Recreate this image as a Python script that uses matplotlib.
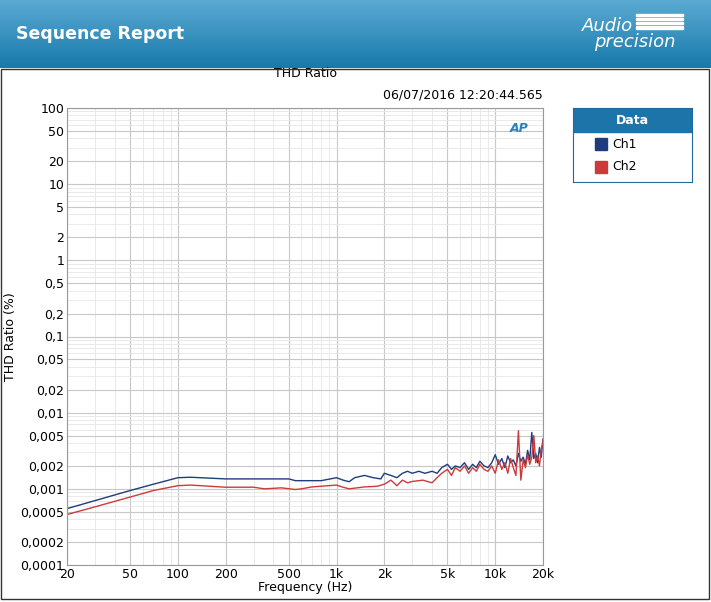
import numpy as np
import matplotlib
matplotlib.use("Agg")
import matplotlib.pyplot as plt
from matplotlib.ticker import FixedLocator, LogLocator, NullFormatter
from matplotlib.patches import Rectangle

freq1 = [20, 30, 50, 70, 100, 120, 200, 500, 550, 800, 1000, 1100, 1200, 1300, 1500, 1700, 1900,
         2000, 2200, 2400, 2600, 2800, 3000, 3300, 3600, 4000, 4300, 4600, 5000, 5300, 5600, 6000,
         6400, 6800, 7200, 7600, 8000, 8500, 9000, 9500, 10000, 10500, 11000, 11500, 12000, 12500,
         13000, 13500, 14000, 14500, 15000, 15500, 16000, 16500, 17000, 17500, 18000, 18500, 19000,
         19500, 20000]
ch1 = [0.00055, 0.0007, 0.00095, 0.00115, 0.0014, 0.00142, 0.00135, 0.00135, 0.00128, 0.00128,
       0.0014, 0.0013, 0.00124, 0.0014, 0.0015, 0.0014, 0.00135, 0.0016, 0.0015, 0.0014, 0.0016,
       0.0017, 0.0016, 0.0017, 0.0016, 0.0017, 0.0016, 0.0019, 0.0021, 0.0018, 0.002, 0.0019,
       0.0022, 0.0018, 0.0021, 0.0019, 0.0023, 0.002, 0.0019, 0.0022, 0.0028, 0.0021, 0.0025,
       0.0019, 0.0027, 0.0022, 0.0024, 0.002, 0.0029, 0.0023, 0.0026, 0.0021, 0.0032, 0.0024,
       0.0055, 0.0025, 0.0029, 0.0022, 0.0035, 0.0026, 0.0045]
freq2 = [20, 30, 50, 70, 100, 120, 200, 300, 350, 450, 550, 600, 700, 1000, 1100, 1200, 1500, 1800,
         2000, 2200, 2400, 2600, 2800, 3000, 3500, 4000, 4300, 4600, 5000, 5300, 5600, 6000,
         6400, 6800, 7200, 7600, 8000, 8500, 9000, 9500, 10000, 10500, 11000, 11500, 12000, 12500,
         13000, 13500, 14000, 14500, 15000, 15500, 16000, 16500, 17000, 17500, 18000, 18500, 19000,
         19500, 20000]
ch2 = [0.00046, 0.00058, 0.00078, 0.00095, 0.0011, 0.00112, 0.00105, 0.00105, 0.001, 0.00103,
       0.00098, 0.001, 0.00106, 0.00112, 0.00105, 0.001, 0.00106, 0.00108, 0.00115, 0.0013, 0.0011,
       0.0013, 0.0012, 0.00125, 0.0013, 0.0012, 0.0014, 0.0016, 0.0018, 0.0015, 0.0019, 0.0017,
       0.002, 0.0016, 0.0019, 0.0017, 0.0021, 0.0018, 0.0017, 0.002, 0.0016, 0.0024, 0.0018,
       0.0022, 0.0016, 0.0025, 0.0019, 0.0015, 0.0058, 0.0013, 0.0024, 0.0019, 0.0028, 0.0021,
       0.0026, 0.005, 0.0022, 0.0027, 0.002, 0.0033, 0.0042]

yticks = [100, 50, 20, 10, 5, 2, 1, 0.5, 0.2, 0.1, 0.05, 0.02, 0.01, 0.005, 0.002, 0.001,
          0.0005, 0.0002, 0.0001]
ytick_labels = ["100", "50", "20", "10", "5", "2", "1", "0,5", "0,2", "0,1", "0,05", "0,02",
                "0,01", "0,005", "0,002", "0,001", "0,0005", "0,0002", "0,0001"]
xticks = [20, 50, 100, 200, 500, 1000, 2000, 5000, 10000, 20000]
xtick_labels = ["20", "50", "100", "200", "500", "1k", "2k", "5k", "10k", "20k"]

W, H = 711, 602
fig = plt.figure(figsize=(W / 100, H / 100), dpi=100)
fig.patch.set_facecolor("white")

# header gradient
hax = fig.add_axes([0, 1 - 68 / H, 1, 68 / H])
grad = np.linspace(0, 1, 100).reshape(-1, 1)
hax.imshow(grad, aspect="auto", extent=[0, 1, 0, 1],
           cmap=matplotlib.colors.LinearSegmentedColormap.from_list("h", ["#5aaad2", "#1879ab"]))
hax.set_axis_off()
hax.text(0.022, 0.5, "Sequence Report", color="white", fontsize=12.5, fontweight="bold",
         va="center", transform=hax.transAxes)
hax.text(0.89, 0.62, "Audio", color="white", fontsize=13, style="italic", va="center",
         ha="right", transform=hax.transAxes)
hax.text(0.95, 0.38, "precision", color="white", fontsize=13, style="italic", va="center",
         ha="right", transform=hax.transAxes)
for i in range(4):
    hax.add_patch(Rectangle((0.895, 0.58 + i * 0.06), 0.065, 0.035, color="white",
                            transform=hax.transAxes))

# frame
fig.patches.append(Rectangle((1 / W, 3 / H), 708 / W, (H - 72) / H, transform=fig.transFigure,
                             fill=False, edgecolor="#333333", lw=1))

ax = fig.add_axes([67 / W, 1 - 565 / H, (543 - 67) / W, (565 - 108) / H])
ax.set_xscale("log")
ax.set_yscale("log")
ax.set_xlim(20, 20000)
ax.set_ylim(0.0001, 100)
ax.plot(freq1, ch1, color="#1f3d7c", lw=1)
ax.plot(freq2, ch2, color="#cc3b3b", lw=1)
ax.yaxis.set_major_locator(FixedLocator(yticks))
ax.set_yticklabels(ytick_labels)
ax.xaxis.set_major_locator(FixedLocator(xticks))
ax.set_xticklabels(xtick_labels)
ax.xaxis.set_minor_locator(LogLocator(base=10, subs=np.arange(2, 10)))
ax.yaxis.set_minor_locator(LogLocator(base=10, subs=np.arange(2, 10)))
ax.xaxis.set_minor_formatter(NullFormatter())
ax.yaxis.set_minor_formatter(NullFormatter())
ax.grid(True, which="major", color="#c8c8c8", lw=0.8)
ax.grid(True, which="minor", color="#e6e6e6", lw=0.6)
ax.tick_params(which="both", length=0, labelsize=9, pad=2)
for s in ax.spines.values():
    s.set_color("#999999")
ax.set_xlabel("Frequency (Hz)", fontsize=9, labelpad=0)
ax.set_ylabel("THD Ratio (%)", fontsize=9, labelpad=2)
ax.text(0.5, 1 + 31 / 457, "THD Ratio", transform=ax.transAxes, ha="center", fontsize=9)
ax.text(1.0, 1 + 10 / 457, "06/07/2016 12:20:44.565", transform=ax.transAxes, ha="right",
        fontsize=9)
ax.text(0.97, 0.955, "AP", transform=ax.transAxes, ha="right", va="center", fontsize=9,
        color="#2b7fc0", style="italic", fontweight="bold")

# legend box
lax = fig.add_axes([573 / W, 1 - 182 / H, 119 / W, 74 / H])
lax.set_xlim(0, 119)
lax.set_ylim(74, 0)
lax.set_xticks([])
lax.set_yticks([])
for s in lax.spines.values():
    s.set_color("#1f6a9a")
lax.add_patch(Rectangle((0, 0), 119, 24, color="#1d74a8"))
lax.text(59.5, 12, "Data", color="white", fontsize=9, fontweight="bold", ha="center", va="center")
lax.add_patch(Rectangle((22, 30), 12, 12, color="#1f3d7c"))
lax.text(39, 36, "Ch1", fontsize=9, va="center")
lax.add_patch(Rectangle((22, 53), 12, 12, color="#cc3b3b"))
lax.text(39, 59, "Ch2", fontsize=9, va="center")

fig.savefig("out.png", dpi=100)
